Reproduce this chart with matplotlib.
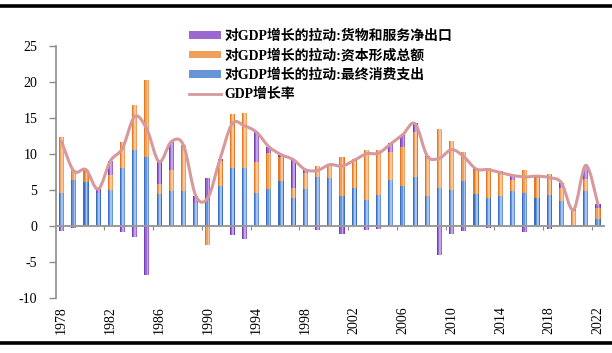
import numpy as np
import matplotlib
matplotlib.use("Agg")
import matplotlib.pyplot as plt
from matplotlib.path import Path
from matplotlib.patches import PathPatch, Patch
from matplotlib.lines import Line2D

years = list(range(1978, 2023))
consumption = [4.5, 6.4, 6.1, 4.6, 5.0, 8.1, 10.5, 9.6, 4.4, 4.8,
               4.9, 3.2, 3.4, 5.6, 8.1, 8.1, 4.5, 5.1, 6.2, 3.8,
               5.1, 6.8, 6.6, 4.2, 5.3, 3.6, 4.3, 6.4, 5.5, 6.8,
               4.2, 5.3, 5.0, 6.2, 4.4, 3.8, 4.2, 4.8, 4.5, 3.8,
               4.3, 3.4, -0.2, 4.8, 1.0]
capital = [7.8, 1.4, 1.7, 0.0, 2.1, 3.5, 6.3, 10.7, 1.4, 3.0,
           6.3, 0.0, -2.7, 3.4, 7.4, 7.6, 4.4, 5.0, 3.4, 1.4,
           2.2, 1.5, 1.9, 5.3, 4.0, 7.0, 6.3, 3.8, 5.4, 6.3,
           5.4, 8.2, 6.8, 4.0, 3.4, 4.2, 3.3, 1.6, 3.2, 2.9,
           2.9, 1.8, 2.0, 1.7, 1.45]
net_exports = [-0.7, -0.3, 0.0, 0.5, 1.9, -0.9, -1.6, -6.9, 3.0, 3.8,
               0.0, 1.0, 3.3, 0.3, -1.25, -1.8, 4.2, 0.8, 0.3, 4.0,
               0.5, -0.6, 0.0, -1.1, 0.0, -0.55, -0.5, 1.3, 1.7, 1.2,
               0.1, -4.1, -1.2, -0.7, 0.1, -0.3, 0.1, 0.6, -0.8, 0.2,
               -0.5, 0.7, 0.3, 1.8, 0.6]
gdp_growth = [11.7, 7.6, 7.8, 5.1, 9.0, 10.8, 15.2, 13.4, 8.9, 11.7,
              11.2, 4.2, 3.9, 9.3, 14.2, 13.9, 13.0, 11.0, 9.9, 9.2,
              7.8, 7.7, 8.5, 8.3, 9.1, 10.0, 10.1, 11.4, 12.7, 14.2,
              9.7, 9.4, 10.6, 9.6, 7.9, 7.8, 7.4, 7.0, 6.8, 6.9,
              6.7, 6.0, 2.2, 8.4, 3.0]
label_years = years[::4]

lbl_net = "对GDP增长的拉动:货物和服务净出口"
lbl_cap = "对GDP增长的拉动:资本形成总额"
lbl_con = "对GDP增长的拉动:最终消费支出"
lbl_gdp = "GDP增长率"

serif_cjk = ['Liberation Serif', 'Noto Sans CJK SC']

fig = plt.figure(figsize=(6.12, 3.53), dpi=100)
ax = fig.add_axes([0.0907, 0.1567, 0.8963, 0.713])

x = np.arange(len(years))
series = [
    (consumption, '#6894d8', '#a6c2ee', '#3a6fc2'),
    (capital, '#f0a05c', '#f8c89c', '#e27a26'),
    (net_exports, '#9a68d0', '#c4a4ec', '#7440b0'),
]
pos_base = np.zeros(len(years))
neg_base = np.zeros(len(years))
w = 0.42
for vals, mid, light, dark in series:
    v = np.array(vals, dtype=float)
    bottom = np.where(v >= 0, pos_base, neg_base)
    ax.bar(x, v, width=w, bottom=bottom, color=dark, linewidth=0, zorder=2)
    ax.bar(x + 0.03, v, width=w * 0.72, bottom=bottom, color=mid, linewidth=0, zorder=2)
    ax.bar(x + 0.05, v, width=w * 0.35, bottom=bottom, color=light, linewidth=0, zorder=2)
    pos_base = pos_base + np.where(v > 0, v, 0)
    neg_base = neg_base + np.where(v < 0, v, 0)

# smoothed GDP line (Catmull-Rom -> cubic Bezier, like spreadsheet smoothing)
pts = np.column_stack([x, np.array(gdp_growth, dtype=float)])
verts = [pts[0]]
codes = [Path.MOVETO]
n = len(pts)
for i in range(n - 1):
    p0 = pts[max(i - 1, 0)]
    p1 = pts[i]
    p2 = pts[i + 1]
    p3 = pts[min(i + 2, n - 1)]
    c1 = p1 + (p2 - p0) / 6.0
    c2 = p2 - (p3 - p1) / 6.0
    verts += [c1, c2, p2]
    codes += [Path.CURVE4] * 3
ax.add_patch(PathPatch(Path(verts, codes), facecolor='none', edgecolor='#d9999c',
                       linewidth=2.2, zorder=4, capstyle='round', joinstyle='round'))

ax.set_xlim(-0.5, len(years) - 0.5)
ax.set_ylim(-10, 25)
ax.set_yticks(range(-10, 26, 5))
ax.set_yticklabels([str(v) for v in range(-10, 26, 5)], fontfamily='Liberation Serif', fontsize=10)
ax.tick_params(axis='y', direction='out', length=5, width=1.0, color='#8c8c8c', pad=8)

ax.set_xticks([years.index(y) for y in label_years])
ax.set_xticklabels([str(y) for y in label_years], rotation=90, fontfamily='Liberation Serif',
                   fontsize=10, va='top')
ax.tick_params(axis='x', length=0, pad=6)

for s in ['top', 'right', 'bottom']:
    ax.spines[s].set_visible(False)
ax.spines['left'].set_color('#8c8c8c')
ax.spines['left'].set_linewidth(1.2)

sec = ax.secondary_xaxis(10 / 35)
sec.spines['bottom'].set_color('#9a9a9a')
sec.spines['bottom'].set_linewidth(1.4)
sec.set_xticks(np.arange(3.5, len(years), 4))
sec.set_xticklabels([])
sec.tick_params(axis='x', direction='out', length=3, width=0.8, color='#8c8c8c')
sec.set_zorder(3)

handles = [
    Patch(facecolor='#9a68d0', edgecolor='none'),
    Patch(facecolor='#f0a05c', edgecolor='none'),
    Patch(facecolor='#6894d8', edgecolor='none'),
    Line2D([0], [0], color='#d9999c', linewidth=2.0),
]
leg = fig.legend(handles, [lbl_net, lbl_cap, lbl_con, lbl_gdp], loc='upper left',
                 bbox_to_anchor=(0.309, 0.916), frameon=False,
                 prop={'family': serif_cjk, 'weight': 'bold', 'size': 10},
                 handlelength=2.3, handleheight=0.45, handletextpad=0.25,
                 labelspacing=0.42, borderpad=0, borderaxespad=0)

# report frame rules
fig.add_artist(Line2D([0, 1], [1 - 6 / 353, 1 - 6 / 353], color='black', linewidth=2.6,
                      transform=fig.transFigure))
fig.add_artist(Line2D([0, 1], [1 - 343 / 353, 1 - 343 / 353], color='black', linewidth=2.6,
                      transform=fig.transFigure))

fig.savefig('out.png', dpi=100)
